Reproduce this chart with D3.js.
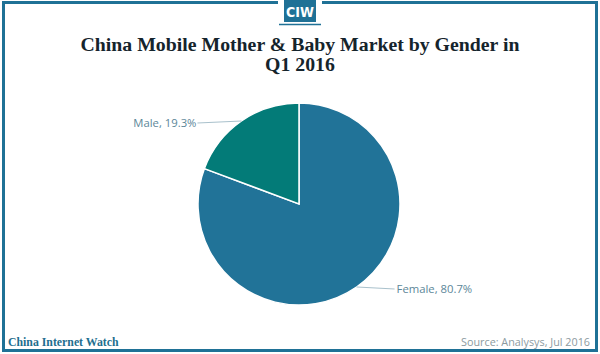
<!DOCTYPE html>
<html>
<head>
<meta charset="utf-8">
<script src="https://cdn.jsdelivr.net/npm/d3@7"></script>
<style>
  body { margin: 0; background: #fff; }
  svg { display: block; }
</style>
</head>
<body>
<svg id="chart"></svg>
<script>
const categories = ["Female", "Male"];
const shares = [80.7, 19.3];
const colors = ["#217398", "#037b78"];
const titleLines = ["China Mobile Mother & Baby Market by Gender in", "Q1 2016"];

const [width, height] = [600, 354];
const center = [299, 204];
const radius = 101;

const svg = d3.select("#chart")
    .attr("width", width)
    .attr("height", height);

// frame
svg.append("rect")
    .attr("x", 3.5).attr("y", 2.5)
    .attr("width", 593).attr("height", 348)
    .attr("fill", "none")
    .attr("stroke", "#1f7196")
    .attr("stroke-width", 3);

// logo badge
svg.append("rect")
    .attr("x", 278).attr("y", 0)
    .attr("width", 44).attr("height", 26)
    .attr("fill", "#fff");
svg.append("rect")
    .attr("x", 284).attr("y", 0)
    .attr("width", 32).attr("height", 22)
    .attr("fill", "#1f7196");
svg.append("line")
    .attr("x1", 279).attr("x2", 321)
    .attr("y1", 24.5).attr("y2", 24.5)
    .attr("stroke", "#1f7196")
    .attr("stroke-width", 1.5);
svg.append("text")
    .attr("x", 300).attr("y", 17)
    .attr("text-anchor", "middle")
    .attr("font-family", "'DejaVu Sans Condensed', 'DejaVu Sans', sans-serif")
    .attr("font-weight", "bold")
    .attr("font-size", 14)
    .attr("fill", "#fff")
    .text("CIW");

// title, one text per line
svg.selectAll("text.title")
    .data(titleLines)
    .join("text")
    .attr("class", "title")
    .attr("x", 300)
    .attr("y", (d, i) => 51 + i * 20)
    .attr("text-anchor", "middle")
    .attr("font-family", "'Liberation Serif', serif")
    .attr("font-weight", "bold")
    .attr("font-size", 19.8)
    .attr("fill", "#15242c")
    .text(d => d);

const data = categories.map((c, i) => ({ name: c, value: shares[i], color: colors[i] }));

const pie = d3.pie()
    .sort(null)
    .value(d => d.value);

const arc = d3.arc()
    .innerRadius(0)
    .outerRadius(radius);

const arcs = pie(data);

const g = svg.append("g")
    .attr("transform", `translate(${center})`);

g.selectAll("path")
    .data(arcs)
    .join("path")
    .attr("d", arc)
    .attr("fill", d => d.data.color)
    .attr("stroke", "#fff")
    .attr("stroke-width", 1.5);

// leader lines and labels
const labelOffset = [{ dx: 38, dy: 2 }, { dx: -44, dy: 2 }];

arcs.forEach((a, i) => {
  const mid = (a.startAngle + a.endAngle) / 2;
  const px = Math.sin(mid) * radius;
  const py = -Math.cos(mid) * radius;
  const ex = px + labelOffset[i].dx;
  const ey = py + labelOffset[i].dy;
  g.append("line")
      .attr("x1", px).attr("y1", py)
      .attr("x2", ex).attr("y2", ey)
      .attr("stroke", "#a9c1cc")
      .attr("stroke-width", 1);
  const right = labelOffset[i].dx > 0;
  g.append("text")
      .attr("x", ex + (right ? 2 : -1))
      .attr("y", ey + 4)
      .attr("text-anchor", right ? "start" : "end")
      .attr("font-family", "'Open Sans', sans-serif")
      .attr("font-size", 11.3)
      .attr("fill", "#5c8799")
      .text(`${a.data.name}, ${a.data.value}%`);
});

// footer
svg.append("text")
    .attr("x", 8).attr("y", 346)
    .attr("font-family", "'Liberation Serif', serif")
    .attr("font-weight", "bold")
    .attr("font-size", 11.8)
    .attr("fill", "#1f6f8f")
    .text("China Internet Watch");

svg.append("text")
    .attr("x", 590).attr("y", 346)
    .attr("text-anchor", "end")
    .attr("font-family", "'Open Sans', sans-serif")
    .attr("font-size", 10.8)
    .attr("fill", "#8c9aa0")
    .text("Source: Analysys, Jul 2016");
</script>
</body>
</html>
